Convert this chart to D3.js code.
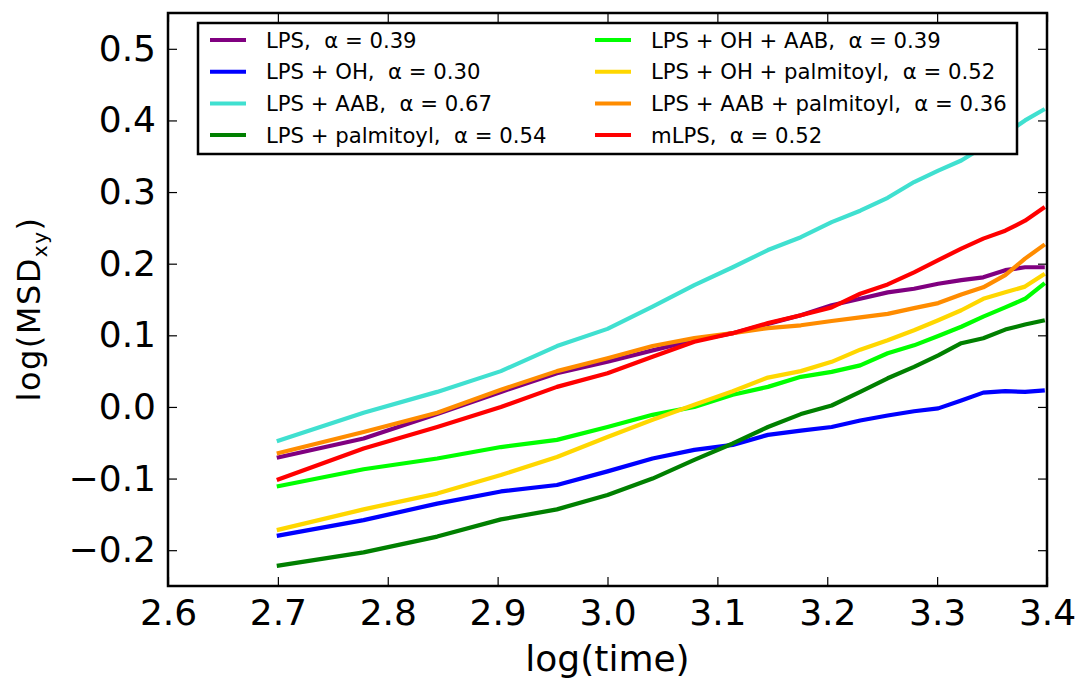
<!DOCTYPE html>
<html>
<head>
<meta charset="utf-8">
<script src="https://cdn.jsdelivr.net/npm/d3@7"></script>
<style>
  body { margin: 0; background: #fff; }
  text { font-family: "DejaVu Sans", sans-serif; fill: #000; }
</style>
</head>
<body>
<div id="chart"></div>
<script>
// log10 of the lag time (500 .. 2500)
const logTime = [2.699, 2.778, 2.845, 2.903, 2.954, 3.000, 3.041, 3.079, 3.114, 3.146,
  3.176, 3.204, 3.230, 3.255, 3.279, 3.301, 3.322, 3.342, 3.362, 3.380, 3.398];

// log(MSD_xy) per system
const lps = [-0.071, -0.044, -0.010, 0.021, 0.047, 0.063, 0.079, 0.093, 0.103, 0.116,
  0.128, 0.142, 0.151, 0.160, 0.165, 0.172, 0.177, 0.181, 0.191, 0.195, 0.195];
const lpsOH = [-0.180, -0.158, -0.135, -0.118, -0.109, -0.090, -0.072, -0.060, -0.053, -0.039,
  -0.033, -0.028, -0.019, -0.012, -0.006, -0.002, 0.009, 0.020, 0.022, 0.021, 0.023];
const lpsAAB = [-0.048, -0.008, 0.021, 0.050, 0.085, 0.109, 0.140, 0.170, 0.195, 0.219,
  0.237, 0.258, 0.274, 0.292, 0.314, 0.330, 0.344, 0.363, 0.381, 0.400, 0.416];
const lpsPalm = [-0.222, -0.203, -0.181, -0.157, -0.143, -0.123, -0.100, -0.074, -0.051, -0.028,
  -0.010, 0.002, 0.021, 0.040, 0.056, 0.072, 0.089, 0.096, 0.108, 0.115, 0.121];
const lpsOHAAB = [-0.111, -0.087, -0.072, -0.056, -0.046, -0.028, -0.011, 0.000, 0.017, 0.028,
  0.042, 0.049, 0.058, 0.075, 0.086, 0.099, 0.112, 0.126, 0.139, 0.151, 0.173];
const lpsOHPalm = [-0.172, -0.143, -0.121, -0.095, -0.070, -0.042, -0.018, 0.003, 0.022, 0.041,
  0.050, 0.063, 0.080, 0.093, 0.107, 0.121, 0.135, 0.151, 0.160, 0.168, 0.186];
const lpsAABPalm = [-0.065, -0.035, -0.008, 0.024, 0.050, 0.068, 0.085, 0.096, 0.103, 0.110,
  0.114, 0.120, 0.125, 0.130, 0.138, 0.145, 0.157, 0.167, 0.184, 0.207, 0.227];
const mLPS = [-0.102, -0.058, -0.028, 0.000, 0.028, 0.047, 0.070, 0.091, 0.103, 0.117,
  0.128, 0.139, 0.158, 0.171, 0.188, 0.205, 0.221, 0.235, 0.246, 0.260, 0.279];

const seriesNames = ['LPS', 'LPS + OH', 'LPS + AAB', 'LPS + palmitoyl',
  'LPS + OH + AAB', 'LPS + OH + palmitoyl', 'LPS + AAB + palmitoyl', 'mLPS'];
const alphas = ['0.39', '0.30', '0.67', '0.54', '0.39', '0.52', '0.36', '0.52'];
const seriesValues = [lps, lpsOH, lpsAAB, lpsPalm, lpsOHAAB, lpsOHPalm, lpsAABPalm, mLPS];
const colors = ['purple', '#0000ff', 'turquoise', 'green', 'lime', 'gold', 'darkorange', 'red'];

const xTicks = [2.6, 2.7, 2.8, 2.9, 3.0, 3.1, 3.2, 3.3, 3.4];
const yTicks = [-0.2, -0.1, 0.0, 0.1, 0.2, 0.3, 0.4, 0.5];

const width = 1080;
const height = 681;
const margin = {left: 168, right: 33, top: 13, bottom: 95};

const svg = d3.select('#chart')
  .append('svg')
    .attr('width', width)
    .attr('height', height);

const x = d3.scaleLinear().domain([2.6, 3.4]).range([margin.left, width - margin.right]);
const y = d3.scaleLinear().domain([-0.25, 0.55]).range([height - margin.bottom, margin.top]);
const fmt = d3.format('.1f');

// lines
const line = d3.line()
  .x((d, i) => x(logTime[i]))
  .y((d) => y(d));

svg.append('g')
  .attr('class', 'lines')
  .selectAll('path')
  .data(seriesValues)
  .enter()
  .append('path')
    .attr('fill', 'none')
    .attr('stroke', (d, i) => colors[i])
    .attr('stroke-width', 4.2)
    .attr('stroke-linejoin', 'round')
    .attr('d', line);

// axes, ticks pointing inwards on all four sides
function styleAxis(g) {
  g.select('.domain').remove();
  g.selectAll('.tick line').attr('stroke', '#000').attr('stroke-width', 1.2);
  g.selectAll('.tick text').style('font-size', '36px').attr('fill', '#000');
}

svg.append('g')
  .attr('transform', 'translate(0,' + y.range()[0] + ')')
  .call(d3.axisBottom(x).tickValues(xTicks).tickFormat(fmt)
    .tickSizeInner(-9).tickSizeOuter(0).tickPadding(13))
  .call(styleAxis);

svg.append('g')
  .attr('transform', 'translate(0,' + y.range()[1] + ')')
  .call(d3.axisTop(x).tickValues(xTicks).tickFormat('')
    .tickSizeInner(-9).tickSizeOuter(0))
  .call(styleAxis);

svg.append('g')
  .attr('transform', 'translate(' + x.range()[0] + ',0)')
  .call(d3.axisLeft(y).tickValues(yTicks).tickFormat(fmt)
    .tickSizeInner(-9).tickSizeOuter(0).tickPadding(12))
  .call(styleAxis);

svg.append('g')
  .attr('transform', 'translate(' + x.range()[1] + ',0)')
  .call(d3.axisRight(y).tickValues(yTicks).tickFormat('')
    .tickSizeInner(-9).tickSizeOuter(0))
  .call(styleAxis);

// frame
svg.append('rect')
  .attr('x', x.range()[0])
  .attr('y', y.range()[1])
  .attr('width', x.range()[1] - x.range()[0])
  .attr('height', y.range()[0] - y.range()[1])
  .attr('fill', 'none')
  .attr('stroke', '#000')
  .attr('stroke-width', 2.5);

// axis labels
svg.append('text')
  .attr('x', (x.range()[0] + x.range()[1]) / 2)
  .attr('y', 671)
  .attr('text-anchor', 'middle')
  .style('font-size', '36px')
  .text('log(time)');

let ylab = svg.append('text')
  .attr('transform', 'translate(40,309) rotate(-90)')
  .attr('text-anchor', 'middle')
  .style('font-size', '32px')
  .style('letter-spacing', '1.5px');
ylab.append('tspan').text('log(MSD');
ylab.append('tspan').attr('dy', 7).style('font-size', '20px').text('xy');
ylab.append('tspan').attr('dy', -7).text(')');

// legend
const legend = svg.append('g').attr('class', 'legend');
legend.append('rect')
  .attr('x', 198)
  .attr('y', 23)
  .attr('width', 819)
  .attr('height', 131)
  .attr('fill', '#fff')
  .attr('stroke', '#000')
  .attr('stroke-width', 2.5);

const items = legend.selectAll('g.item')
  .data(seriesNames)
  .enter()
  .append('g')
    .attr('class', 'item')
    .attr('transform', (d, i) => {
      let col = Math.floor(i / 4);
      let row = i % 4;
      return 'translate(' + (col == 0 ? 210 : 595) + ',' + (40 + row * 31.7) + ')';
    });

items.append('line')
  .attr('x1', 0)
  .attr('x2', 36)
  .attr('stroke', (d, i) => colors[i])
  .attr('stroke-width', 4);

items.append('text')
  .attr('x', 56)
  .attr('dy', '0.36em')
  .style('font-size', '21.2px')
  .attr('xml:space', 'preserve')
  .text((d, i) => d + ',  \u03b1 = ' + alphas[i]);
</script>
</body>
</html>
